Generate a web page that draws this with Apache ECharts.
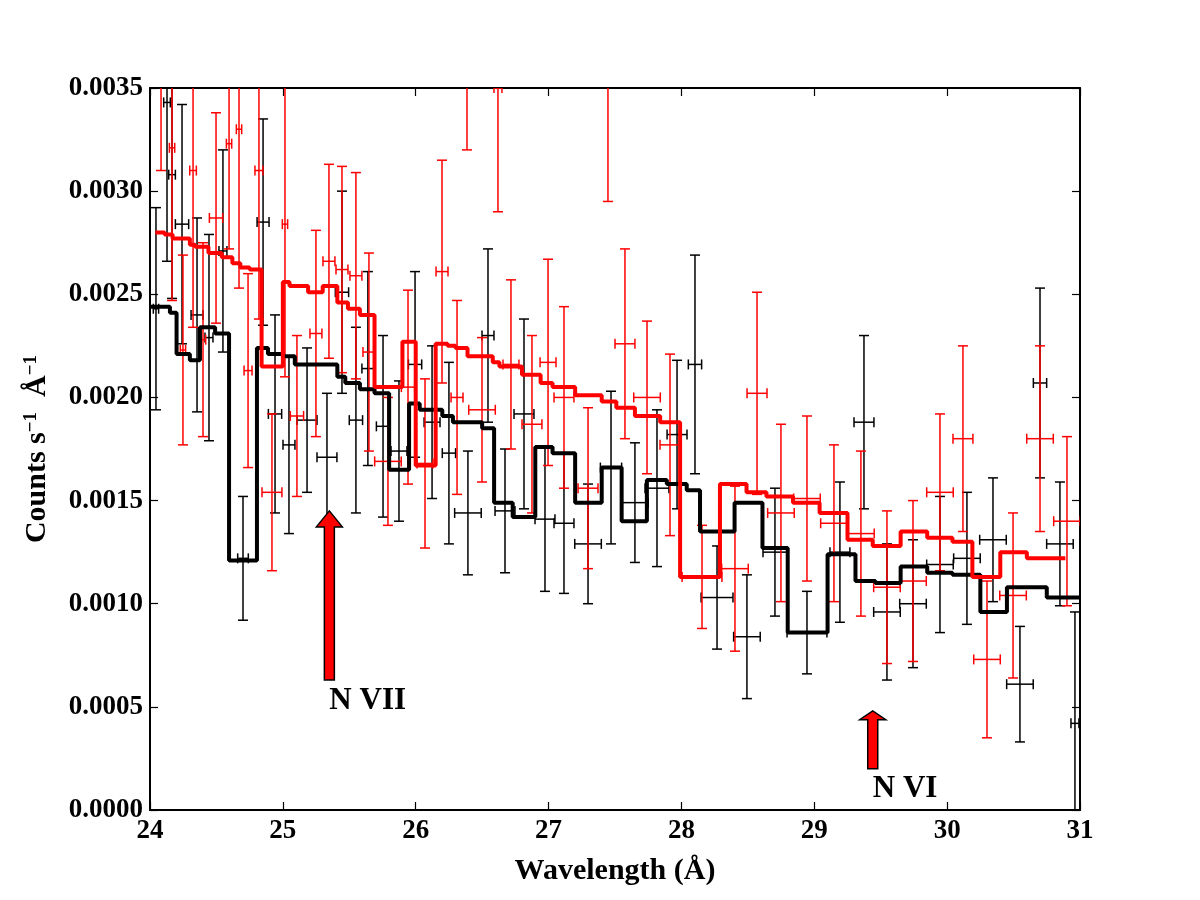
<!DOCTYPE html>
<html>
<head>
<meta charset="utf-8">
<script src="https://cdn.jsdelivr.net/npm/echarts@6/dist/echarts.min.js"></script>
<style>
  html, body { margin: 0; background: #fff; }
  #chart { width: 1200px; height: 900px; }
</style>
</head>
<body>
<div id="chart"></div>
<script>
// black data set: wavelength, half bin width, rate, 1-sigma error
var blackX    = [24.045, 24.128, 24.166, 24.241, 24.354, 24.444, 24.549, 24.700, 24.851, 24.941,
                 25.046, 25.182, 25.332, 25.445, 25.550, 25.640, 25.754, 25.874, 25.995, 26.123, 26.250,
                 26.393, 26.544, 26.672, 26.815, 26.973, 27.116, 27.297, 27.470, 27.650, 27.816,
                 27.967, 28.102, 28.268, 28.493, 28.704, 28.945, 29.193, 29.374, 29.547, 29.743,
                 29.946, 30.149, 30.345, 30.548, 30.699, 30.849, 30.962];
var blackXErr = [0.02, 0.025, 0.025, 0.05, 0.045, 0.03, 0.03, 0.04, 0.045, 0.05,
                 0.045, 0.075, 0.075, 0.05, 0.05, 0.045, 0.05, 0.06, 0.05, 0.06, 0.05,
                 0.1, 0.045, 0.075, 0.075, 0.075, 0.075, 0.1, 0.08, 0.1, 0.09,
                 0.075, 0.05, 0.12, 0.1, 0.09, 0.15, 0.075, 0.075, 0.1, 0.1,
                 0.1, 0.1, 0.1, 0.1, 0.05, 0.1, 0.03];
var blackY    = [0.00243, 0.00343, 0.00308, 0.00284, 0.00240, 0.00229, 0.00271, 0.00122, 0.00285, 0.00192,
                 0.00177, 0.00189, 0.00171, 0.00251, 0.00189, 0.00214, 0.00186, 0.00174, 0.00216, 0.00188, 0.00173,
                 0.00144, 0.00230, 0.00145, 0.00192, 0.00141, 0.00139, 0.00129, 0.00166, 0.00149, 0.00156,
                 0.00182, 0.00216, 0.00103, 0.00084, 0.00125, 0.00086, 0.00125, 0.00188, 0.00096, 0.00100,
                 0.00119, 0.00122, 0.00131, 0.00061, 0.00207, 0.00129, 0.00042];
var blackYErr = [0.00049, 0.00077, 0.00060, 0.00058, 0.00047, 0.00050, 0.00049, 0.00030, 0.00050, 0.00048,
                 0.00043, 0.00035, 0.00031, 0.00049, 0.00045, 0.00047, 0.00044, 0.00034, 0.00045, 0.00037, 0.00044,
                 0.00030, 0.00042, 0.00030, 0.00046, 0.00035, 0.00034, 0.00029, 0.00037, 0.00029, 0.00038,
                 0.00036, 0.00053, 0.00025, 0.00030, 0.00031, 0.00020, 0.00034, 0.00042, 0.00033, 0.00031,
                 0.00033, 0.00032, 0.00030, 0.00028, 0.00046, 0.00030, 0.00054];

// red data set
var redX    = [24.083, 24.166, 24.248, 24.324, 24.399, 24.497, 24.595, 24.670, 24.738, 24.820,
               24.918, 25.016, 25.106, 25.249, 25.347, 25.445, 25.550, 25.648, 25.791, 25.942,
               26.070, 26.198, 26.311, 26.386, 26.499, 26.619, 26.717, 26.875, 26.996, 27.116,
               27.297, 27.447, 27.575, 27.741, 27.914, 28.155, 28.403, 28.569, 28.749, 28.945,
               29.148, 29.351, 29.547, 29.743, 29.946, 30.119, 30.300, 30.496, 30.699, 30.902];
var redXErr = [0.02, 0.02, 0.02, 0.025, 0.02, 0.05, 0.02, 0.02, 0.03, 0.03,
               0.075, 0.02, 0.05, 0.045, 0.045, 0.045, 0.045, 0.045, 0.1, 0.05,
               0.06, 0.045, 0.045, 0.03, 0.1, 0.03, 0.06, 0.075, 0.06, 0.075,
               0.075, 0.04, 0.075, 0.1, 0.075, 0.15, 0.1, 0.075, 0.1, 0.1,
               0.1, 0.1, 0.1, 0.1, 0.1, 0.075, 0.1, 0.1, 0.1, 0.1];
var redY    = [0.00360, 0.00321, 0.00223, 0.00310, 0.00228, 0.00287, 0.00323, 0.00330, 0.00213, 0.00310,
               0.00154, 0.00284, 0.00191, 0.00231, 0.00266, 0.00262, 0.00259, 0.00222, 0.00169, 0.00205,
               0.00168, 0.00261, 0.00200, 0.00380, 0.00194, 0.00350, 0.00216, 0.00187, 0.00217, 0.00200,
               0.00156, 0.00370, 0.00226, 0.00200, 0.00177, 0.00113, 0.00117, 0.00202, 0.00144, 0.00151,
               0.00139, 0.00134, 0.00108, 0.00111, 0.00154, 0.00180, 0.00073, 0.00104, 0.00180, 0.00140];
var redYErr = [0.00050, 0.00074, 0.00046, 0.00076, 0.00047, 0.00051, 0.00051, 0.00077, 0.00047, 0.00072,
               0.00038, 0.00074, 0.00039, 0.00050, 0.00047, 0.00050, 0.00050, 0.00048, 0.00031, 0.00047,
               0.00041, 0.00054, 0.00047, 0.00060, 0.00035, 0.00060, 0.00041, 0.00043, 0.00050, 0.00044,
               0.00039, 0.00075, 0.00046, 0.00037, 0.00044, 0.00025, 0.00040, 0.00049, 0.00043, 0.00040,
               0.00038, 0.00040, 0.00037, 0.00039, 0.00038, 0.00045, 0.00038, 0.00040, 0.00045, 0.00041];

// folded models: bin edges (n+1) and values (n)
var blackModelEdges = [24.0, 24.15, 24.2, 24.3, 24.376, 24.49, 24.595, 24.805, 24.888, 25.0, 25.09,
                       25.41, 25.47, 25.58, 25.69, 25.8, 25.95, 26.03, 26.2, 26.28, 26.5, 26.59,
                       26.73, 26.9, 27.03, 27.2, 27.4, 27.55, 27.74, 27.89, 28.04, 28.14, 28.4,
                       28.61, 28.8, 29.1, 29.31, 29.46, 29.65, 29.85, 30.04, 30.25, 30.45, 30.75, 31.0];
var blackModel = [0.00244, 0.00241, 0.00221, 0.00218, 0.00234, 0.00231, 0.00121, 0.00224, 0.00221, 0.00220,
                  0.00216, 0.00210, 0.00207, 0.00204, 0.00202, 0.00165, 0.00197, 0.00194, 0.00191, 0.00188,
                  0.00185, 0.00149, 0.00142, 0.00176, 0.00173, 0.00149, 0.00166, 0.00140, 0.00160, 0.00158,
                  0.00155, 0.00135, 0.00149, 0.00127, 0.00086, 0.00124, 0.00111, 0.00110, 0.00118, 0.00115,
                  0.00114, 0.00096, 0.00108, 0.00103];
var redModelEdges = [24.04, 24.11, 24.17, 24.3, 24.34, 24.44, 24.54, 24.62, 24.68, 24.75, 24.84, 25.0,
                     25.05, 25.19, 25.3, 25.41, 25.49, 25.58, 25.69, 25.9, 26.0, 26.15, 26.24, 26.3,
                     26.39, 26.58, 26.63, 26.8, 26.94, 27.03, 27.2, 27.4, 27.51, 27.65, 27.84, 27.99,
                     28.29, 28.49, 28.64, 28.84, 29.04, 29.25, 29.44, 29.65, 29.85, 30.04, 30.19, 30.4,
                     30.6, 30.89];
var redModel = [0.00280, 0.00279, 0.00277, 0.00274, 0.00273, 0.00270, 0.00268, 0.00265, 0.00263, 0.00262,
                0.00215, 0.00256, 0.00254, 0.00251, 0.00254, 0.00246, 0.00243, 0.00240, 0.00205, 0.00227,
                0.00167, 0.00226, 0.00225, 0.00224, 0.00220, 0.00217, 0.00215, 0.00211, 0.00207, 0.00205,
                0.00201, 0.00198, 0.00195, 0.00191, 0.00188, 0.00113, 0.00158, 0.00154, 0.00152, 0.00149,
                0.00144, 0.00131, 0.00128, 0.00135, 0.00132, 0.00130, 0.00113, 0.00125, 0.00122];

// line identifications: wavelength, arrow tail, arrow tip
var lineNames = ['N VII', 'N VI'];
var lineX     = [25.35, 29.44];
var lineTail  = [0.00063, 0.00020];
var lineTip   = [0.00145, 0.00048];

var FONT = 'Liberation Serif';

function errData(x, xe, y, ye) {
  return x.map(function (v, i) { return [v, xe[i], y[i], ye[i]]; });
}

function stepData(edges, vals) {
  return edges.map(function (e, i) { return [e, vals[Math.min(i, vals.length - 1)]]; });
}

function errRender(color) {
  return function (params, api) {
    var x = api.value(0), xe = api.value(1), y = api.value(2), ye = api.value(3);
    var c = api.coord([x, y]);
    var top = api.coord([x, y + ye])[1];
    var bot = api.coord([x, y - ye])[1];
    var l = api.coord([x - xe, y])[0];
    var r = api.coord([x + xe, y])[0];
    var cap = 5;
    var st = { stroke: color, lineWidth: 1.5 };
    var seg = function (x1, y1, x2, y2) {
      return { type: 'line', shape: { x1: x1, y1: y1, x2: x2, y2: y2 }, style: st };
    };
    return {
      type: 'group',
      children: [
        seg(c[0], top, c[0], bot),
        seg(c[0] - cap, top, c[0] + cap, top),
        seg(c[0] - cap, bot, c[0] + cap, bot),
        seg(l, c[1], r, c[1]),
        seg(l, c[1] - cap, l, c[1] + cap),
        seg(r, c[1] - cap, r, c[1] + cap)
      ]
    };
  };
}

function arrowRender(params, api) {
  var x = api.value(0);
  var tail = api.coord([x, api.value(1)]);
  var tip = api.coord([x, api.value(2)]);
  var len = tail[1] - tip[1];
  var head = Math.min(16, len * 0.15);
  var hw = 13, sw = 5;
  var cx = tip[0];
  var pts = [
    [cx - sw, tail[1]], [cx - sw, tip[1] + head], [cx - hw, tip[1] + head], [cx, tip[1]],
    [cx + hw, tip[1] + head], [cx + sw, tip[1] + head], [cx + sw, tail[1]]
  ];
  return {
    type: 'group',
    children: [
      { type: 'polygon', shape: { points: pts }, style: { fill: '#ff0000', stroke: '#000', lineWidth: 1.5 } },
      { type: 'text', x: cx, y: tail[1] + 5,
        style: { text: lineNames[params.dataIndex], fill: '#000', font: 'bold 31px "' + FONT + '"',
                 textAlign: 'left', textVerticalAlign: 'top' } }
    ]
  };
}

var axisLine = { show: true, onZero: false, lineStyle: { color: '#000', width: 2 } };
var tickIn = { show: true, inside: true, length: 8, lineStyle: { color: '#000', width: 1.2 } };
var labelFont = { fontFamily: FONT, fontWeight: 'bold', fontSize: 27, color: '#000' };

var chart = echarts.init(document.getElementById('chart'));
chart.setOption({
  backgroundColor: '#fff',
  animation: false,
  grid: { left: 150, right: 120, top: 88, bottom: 90 },
  xAxis: [{
    type: 'value', min: 24, max: 31, interval: 1, position: 'bottom',
    name: 'Wavelength (Å)', nameLocation: 'middle', nameGap: 46,
    nameTextStyle: { fontFamily: FONT, fontWeight: 'bold', fontSize: 30, color: '#000' },
    axisLine: axisLine, axisTick: tickIn, splitLine: { show: false },
    axisLabel: Object.assign({ margin: 8 }, labelFont)
  }, {
    type: 'value', min: 24, max: 31, interval: 1, position: 'top',
    axisLine: axisLine, axisTick: tickIn, splitLine: { show: false }, axisLabel: { show: false }
  }],
  yAxis: [{
    type: 'value', min: 0, max: 0.0035, interval: 0.0005, position: 'left',
    name: '{n|Counts s}{s|−1}{n|  Å}{s|−1}', nameLocation: 'middle', nameGap: 98, nameRotate: 90,
    nameTextStyle: {
      fontFamily: FONT, fontWeight: 'bold', fontSize: 30, color: '#000',
      rich: {
        n: { fontFamily: FONT, fontWeight: 'bold', fontSize: 30, color: '#000', verticalAlign: 'bottom' },
        s: { fontFamily: FONT, fontWeight: 'bold', fontSize: 19, color: '#000', verticalAlign: 'top' }
      }
    },
    axisLine: axisLine, axisTick: tickIn, splitLine: { show: false },
    axisLabel: Object.assign({ margin: 7, formatter: function (v) { return v.toFixed(4); } }, labelFont)
  }, {
    type: 'value', min: 0, max: 0.0035, interval: 0.0005, position: 'right',
    axisLine: axisLine, axisTick: tickIn, splitLine: { show: false }, axisLabel: { show: false }
  }],
  series: [
    { type: 'custom', name: 'black data', renderItem: errRender('#000'), clip: true,
      encode: { x: 0, y: 2 }, data: errData(blackX, blackXErr, blackY, blackYErr), z: 2 },
    { type: 'custom', name: 'red data', renderItem: errRender('#ff0000'), clip: true,
      encode: { x: 0, y: 2 }, data: errData(redX, redXErr, redY, redYErr), z: 3 },
    { type: 'line', name: 'black model', step: 'end', showSymbol: false, clip: true,
      lineStyle: { color: '#000', width: 4 }, data: stepData(blackModelEdges, blackModel), z: 4 },
    { type: 'line', name: 'red model', step: 'end', showSymbol: false, clip: true,
      lineStyle: { color: '#ff0000', width: 4 }, data: stepData(redModelEdges, redModel), z: 5 },
    { type: 'custom', name: 'lines', renderItem: arrowRender, clip: false,
      encode: { x: 0, y: 2 },
      data: lineX.map(function (v, i) { return [v, lineTail[i], lineTip[i]]; }), z: 6 }
  ]
});
</script>
</body>
</html>
